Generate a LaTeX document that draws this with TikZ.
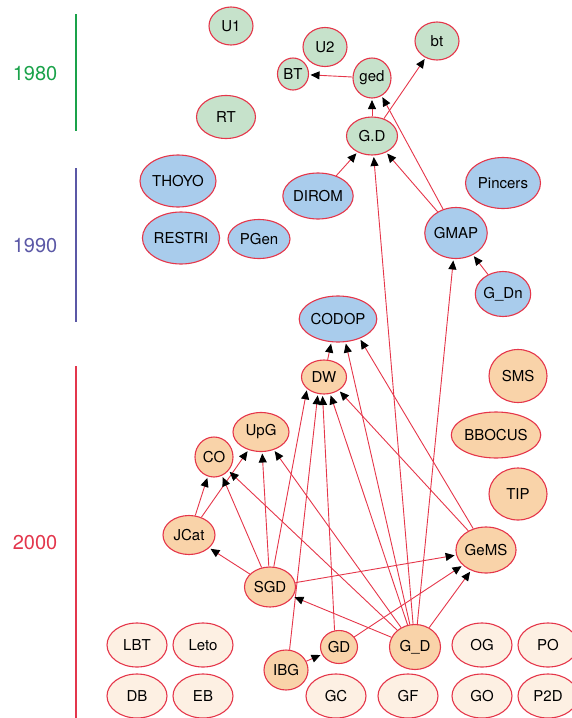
\documentclass[tikz,border=0pt]{standalone}
\usepackage{fontspec}
\setmainfont{TeX Gyre Heros}
\usetikzlibrary{shapes.geometric,arrows.meta}
\definecolor{bord}{HTML}{E5364A}
\definecolor{edgec}{HTML}{E5364A}
\definecolor{gfill}{HTML}{C6E2CB}
\definecolor{bfill}{HTML}{A9CCEC}
\definecolor{ofill}{HTML}{F9D3A9}
\definecolor{cfill}{HTML}{FDF0E3}
\definecolor{ygreen}{HTML}{1AA24A}
\definecolor{ypurple}{HTML}{5B58A6}
\definecolor{yred}{HTML}{E3364C}
\tikzset{
  nd/.style 2 args={ellipse,draw=bord,line width=1.1pt,inner sep=0pt,minimum width=#1pt,minimum height=#2pt,font=\fontsize{15}{18}\selectfont},
  gn/.style={fill=gfill},
  bl/.style={fill=bfill},
  og/.style={fill=ofill},
  cr/.style={fill=cfill},
  ar/.style={draw=edgec,line width=0.9pt,-{Triangle[length=9pt,width=8pt,color=black]},shorten >=1.5pt},
  yr/.style={font=\fontsize{20}{24}\selectfont},
  tl/.style={line width=1.2pt}
}
\begin{document}
\begin{tikzpicture}[x=1pt,y=-1pt]
\useasboundingbox (0,0) rectangle (572,718);
% timeline
\node[yr,text=ygreen] (y80) at (35,74) {1980};
\node[yr,text=ypurple] (y90) at (35,246) {1990};
\node[yr,text=yred] (y00) at (35,543) {2000};
\coordinate (l1a) at (76,14); \coordinate (l1b) at (76,131);
\coordinate (l2a) at (76,168); \coordinate (l2b) at (76,322);
\coordinate (l3a) at (76,366); \coordinate (l3b) at (76,718);
\draw[tl,draw=ygreen] (l1a) -- (l1b);
\draw[tl,draw=ypurple] (l2a) -- (l2b);
\draw[tl,draw=yred] (l3a) -- (l3b);
% 1980
\node[nd={44}{38},gn] (U1) at (231,26) {U1};
\node[nd={44}{39},gn] (U2) at (325,47) {U2};
\node[nd={31}{32},gn] (BT) at (293,74) {BT};
\node[nd={38}{40},gn] (ged) at (372,78) {ged};
\node[nd={44}{38},gn] (bt) at (437,41) {bt};
\node[nd={59}{43},gn] (RT) at (226,117) {RT};
\node[nd={51}{38},gn] (GDot) at (372,136) {G.D};
% 1990
\node[nd={76}{52},bl] (THOYO) at (178,181) {THOYO};
\node[nd={74}{52},bl] (RESTRI) at (181,238) {RESTRI};
\node[nd={62}{39},bl] (PGen) at (259,239) {PGen};
\node[nd={69}{46},bl] (DIROM) at (318,196) {DIROM};
\node[nd={75}{51},bl] (Pincers) at (503,183) {Pincers};
\node[nd={56}{51},bl] (GMAP) at (456,233) {GMAP};
\node[nd={50}{45},bl] (GDn) at (503,294) {G\_Dn};
\node[nd={70}{46},bl] (CODOP) at (338,319) {CODOP};
% 2000
\node[nd={45}{34},og] (DW) at (324,377) {DW};
\node[nd={58}{53},og] (SMS) at (518,376) {SMS};
\node[nd={88}{46},og] (BBOCUS) at (496,435) {BBOCUS};
\node[nd={58}{52},og] (TIP) at (518,494) {TIP};
\node[nd={56}{39},og] (UpG) at (261,432) {UpG};
\node[nd={38}{40},og] (CO) at (214,457) {CO};
\node[nd={52}{39},og] (JCat) at (189,535) {JCat};
\node[nd={58}{46},og] (GeMS) at (486,550) {GeMS};
\node[nd={51}{40},og] (SGD) at (270,587) {SGD};
\node[nd={37}{33},og] (GDs) at (339,647) {GD};
\node[nd={51}{45},og] (GDu) at (415,647) {G\_D};
\node[nd={44}{40},og] (IBG) at (286,670) {IBG};
% cream
\node[nd={60}{44},cr] (LBT) at (137,645) {LBT};
\node[nd={60}{44},cr] (Leto) at (203,645) {Leto};
\node[nd={60}{44},cr] (DB) at (137,696) {DB};
\node[nd={60}{44},cr] (EB) at (203,696) {EB};
\node[nd={60}{44},cr] (GC) at (336,696) {GC};
\node[nd={60}{44},cr] (GF) at (408,696) {GF};
\node[nd={60}{44},cr] (OG) at (482,645) {OG};
\node[nd={60}{44},cr] (PO) at (548,645) {PO};
\node[nd={60}{44},cr] (GO) at (482,696) {GO};
\node[nd={60}{44},cr] (P2D) at (548,696) {P2D};
% edges
\draw[ar] (ged) -- (BT);
\draw[ar] (GDot) -- (ged);
\draw[ar] (GDot) -- (bt);
\draw[ar] (DIROM) -- (GDot);
\draw[ar] (GMAP) -- (GDot);
\draw[ar] (GMAP) -- (ged);
\draw[ar] (GDn) -- (GMAP);
\draw[ar] (GDu) -- (GDot);
\draw[ar] (GDu) -- (GMAP);
\draw[ar] (DW) -- (CODOP.254);
\draw[ar] (GDu) -- (CODOP.288);
\draw[ar] (GeMS) -- (CODOP.318);
\draw[ar] (SGD) -- (DW.215);
\draw[ar] (IBG.80) -- (DW.250);
\draw[ar] (GDs.105) -- (DW.265);
\draw[ar] (GDu) -- (DW.290);
\draw[ar] (GeMS) -- (DW.318);
\draw[ar] (JCat) -- (UpG);
\draw[ar] (SGD) -- (UpG);
\draw[ar] (GDu) -- (UpG);
\draw[ar] (JCat) -- (CO);
\draw[ar] (SGD) -- (CO);
\draw[ar] (GDu) -- (CO);
\draw[ar] (SGD) -- (JCat);
\draw[ar] (GDu) -- (SGD);
\draw[ar] (SGD) -- (GeMS);
\draw[ar] (GDs) -- (GeMS);
\draw[ar] (GDu) -- (GeMS);
\draw[ar] (IBG) -- (GDs);
\end{tikzpicture}
\end{document}
